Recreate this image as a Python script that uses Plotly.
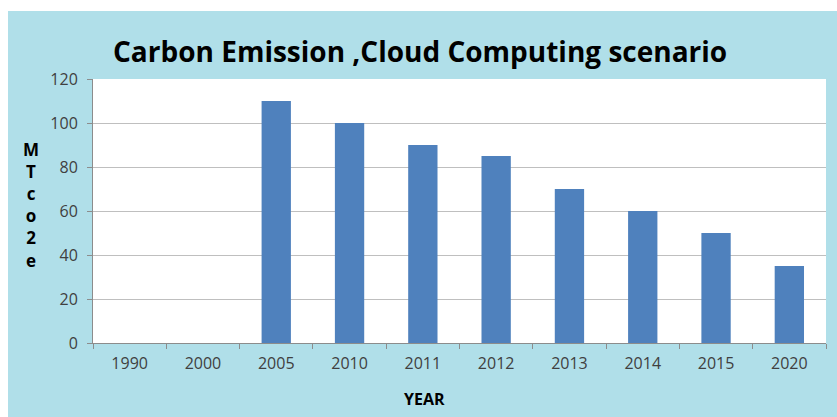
import plotly.graph_objects as go

years = ["1990", "2000", "2005", "2010", "2011", "2012", "2013", "2014", "2015", "2020"]
emissions = [0, 0, 110, 100, 90, 85, 70, 60, 50, 35]
y_ticks = [0, 20, 40, 60, 80, 100, 120]

title_text = "Carbon Emission ,Cloud Computing scenario"
y_title_letters = ["M", "T", "c", "o", "2", "e"]
x_title = "YEAR"

W, H = 837, 417
L, R, T, B = 93, 11, 79, 74
pw, ph = W - L - R, H - T - B

def px_x(px):
    return (px - L) / pw

def px_y(py):
    return (H - B - py) / ph

FONT = "Open Sans"

fig = go.Figure()
fig.add_trace(go.Bar(
    x=years, y=emissions,
    marker=dict(color="#4F81BD", line=dict(width=0)),
    hoverinfo="x+y",
))

fig.update_layout(
    width=W, height=H,
    margin=dict(l=L, r=R, t=T, b=B),
    paper_bgcolor="white",
    plot_bgcolor="white",
    bargap=0.6,
    showlegend=False,
    font=dict(family=FONT, color="#404040"),
    shapes=[
        dict(type="rect", xref="paper", yref="paper", layer="below",
             x0=px_x(8), x1=px_x(W + 2), y0=px_y(H + 2), y1=px_y(11),
             fillcolor="#B0DFE9", line=dict(width=0)),
        dict(type="rect", xref="paper", yref="paper", layer="below",
             x0=0, x1=1, y0=0, y1=1,
             fillcolor="white", line=dict(width=0)),
    ],
    annotations=[
        dict(text="<b>" + title_text + "</b>", xref="paper", yref="paper",
             x=px_x(420), y=px_y(51), xanchor="center", yanchor="middle",
             showarrow=False, font=dict(family=FONT, size=28, color="black")),
        dict(text="<b>" + "<br>".join(y_title_letters) + "</b>", xref="paper", yref="paper",
             x=px_x(31), y=px_y(205), xanchor="center", yanchor="middle",
             showarrow=False, align="center",
             font=dict(family=FONT, size=17, color="black")),
        dict(text="<b>" + x_title + "</b>", xref="paper", yref="paper",
             x=px_x(424), y=px_y(399), xanchor="center", yanchor="middle",
             showarrow=False, font=dict(family=FONT, size=16, color="black")),
    ],
)

fig.update_xaxes(
    type="category",
    showline=True, linecolor="#8C8C8C", linewidth=1,
    ticks="outside", tickson="boundaries", ticklen=5, tickcolor="#8C8C8C",
    tickfont=dict(family=FONT, size=16, color="#404040"),
    showgrid=False,
    ticklabelstandoff=6,
)
fig.update_yaxes(
    range=[0, 120], tickvals=y_ticks,
    showline=True, linecolor="#8C8C8C", linewidth=1,
    ticks="outside", ticklen=5, tickcolor="#8C8C8C",
    gridcolor="#BFBFBF", gridwidth=1,
    tickfont=dict(family=FONT, size=16, color="#404040"),
    zeroline=False,
    ticklabelstandoff=6,
)

fig.write_html("out.html")
